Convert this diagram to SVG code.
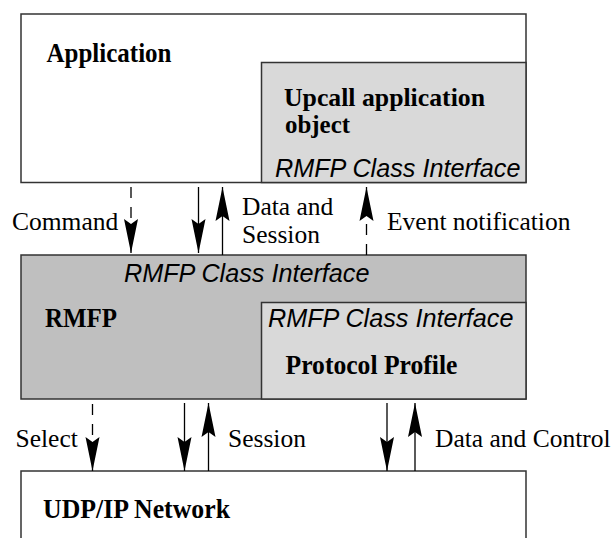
<svg xmlns="http://www.w3.org/2000/svg" width="613" height="538" viewBox="0 0 613 538">
<defs>
<marker id="ah" viewBox="-35 -8 36 16" refX="0" refY="0" markerWidth="36" markerHeight="16" markerUnits="userSpaceOnUse" orient="auto">
<path d="M0,0 L-34,-7 L-29,0 L-34,7 Z" fill="#000"/>
</marker>
</defs>
<style>
.box{stroke:#333;stroke-width:1.5}
.bold{font-family:"Liberation Serif","Times New Roman",serif;font-weight:bold;font-size:28px;fill:#000}
.sm{font-size:25.5px}
.lbl{font-family:"Liberation Serif","Times New Roman",serif;font-size:25.5px;fill:#000}
.ital{font-family:"Liberation Sans",Arial,sans-serif;font-style:italic;font-size:25.2px;fill:#000}
.ln{stroke:#000;stroke-width:1.3;fill:none;marker-end:url(#ah)}
.dash{stroke-dasharray:11 9}
</style>
<rect width="613" height="538" fill="#fff"/>
<g id="application">
<rect class="box" x="21" y="14" width="505" height="168.5" fill="#fff"/>
<text class="bold" x="46.5" y="62" textLength="125" lengthAdjust="spacingAndGlyphs">Application</text>
</g>
<g id="upcall">
<rect class="box" x="261.5" y="62.5" width="264.5" height="120" fill="#d9d9d9"/>
<text class="bold sm" x="284" y="106" textLength="201" lengthAdjust="spacingAndGlyphs">Upcall application</text>
<text class="bold sm" x="285" y="133" textLength="65" lengthAdjust="spacingAndGlyphs">object</text>
<text class="ital" x="275" y="177">RMFP Class Interface</text>
</g>
<g id="rmfp">
<rect class="box" x="21" y="255" width="505" height="144" fill="#bfbfbf"/>
<text class="ital" x="124" y="282">RMFP Class Interface</text>
<text class="bold" x="45" y="327" textLength="72" lengthAdjust="spacingAndGlyphs">RMFP</text>
</g>
<g id="protocol-profile">
<rect class="box" x="261.5" y="302.5" width="264.5" height="96.5" fill="#d9d9d9"/>
<text class="ital" x="268" y="327">RMFP Class Interface</text>
<text class="bold" x="285.5" y="374" textLength="172" lengthAdjust="spacingAndGlyphs">Protocol Profile</text>
</g>
<g id="udp-ip-network">
<path class="box" d="M21,545 V471 H526 V545" fill="#fff"/>
<text class="bold" x="43" y="518" textLength="187" lengthAdjust="spacingAndGlyphs">UDP/IP Network</text>
</g>
<g id="connectors">
<line class="ln dash" x1="131" y1="187" x2="131" y2="253"/>
<line class="ln" x1="198.5" y1="187" x2="198.5" y2="253"/>
<line class="ln" x1="222.5" y1="255" x2="222.5" y2="187"/>
<line class="ln dash" x1="366.5" y1="255" x2="366.5" y2="187"/>
<line class="ln dash" x1="92.5" y1="404" x2="92.5" y2="471"/>
<line class="ln" x1="184.5" y1="403" x2="184.5" y2="471"/>
<line class="ln" x1="208.5" y1="471" x2="208.5" y2="403"/>
<line class="ln" x1="387" y1="403" x2="387" y2="471"/>
<line class="ln" x1="415" y1="471" x2="415" y2="403"/>
</g>
<g id="labels">
<text class="lbl" x="12" y="230">Command</text>
<text class="lbl" x="242" y="215">Data and</text>
<text class="lbl" x="242" y="243">Session</text>
<text class="lbl" x="387" y="230">Event notification</text>
<text class="lbl" x="15.5" y="447">Select</text>
<text class="lbl" x="228" y="447">Session</text>
<text class="lbl" x="435" y="447">Data and Control</text>
</g>
</svg>
